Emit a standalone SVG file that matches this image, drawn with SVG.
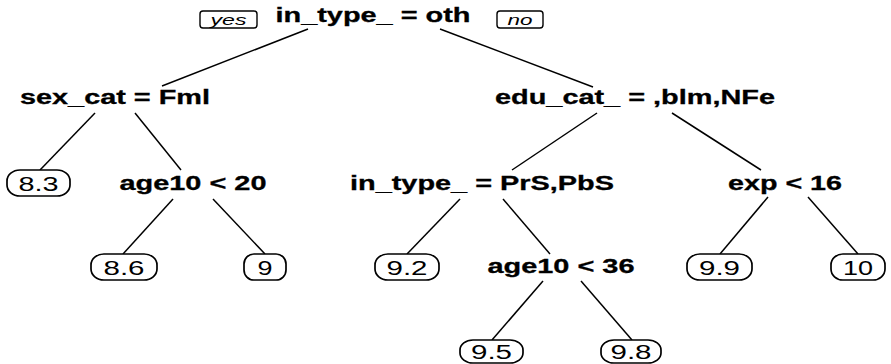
<svg xmlns="http://www.w3.org/2000/svg" width="891" height="364" viewBox="0 0 891 364">
  <style>
    .split { font-family: "Liberation Sans", Arial, sans-serif; font-weight: bold; font-size: 20px; fill: #000; stroke: #000; stroke-width: 0.3; text-anchor: middle; }
    .leaf-box { fill: #fff; stroke: #000; stroke-width: 1.7; }
    .leaf-text { font-family: "Liberation Sans", Arial, sans-serif; font-size: 20px; fill: #000; text-anchor: middle; }
    .tag-box { fill: #fff; stroke: #000; stroke-width: 1.4; }
    .tag-text { font-family: "Liberation Sans", Arial, sans-serif; font-style: italic; font-size: 15px; fill: #000; text-anchor: middle; }
    .branch { stroke: #000; stroke-width: 1.5; fill: none; }
  </style>
  <rect width="891" height="364" fill="#fff"/>

  <!-- branches -->
  <g id="connectors" class="branch">
    <line x1="308" y1="29" x2="162" y2="86"/>
    <line x1="440" y1="29" x2="593" y2="87"/>
    <line x1="95" y1="113" x2="40" y2="170"/>
    <line x1="135" y1="113" x2="181" y2="170"/>
    <line x1="597" y1="113" x2="512" y2="170"/>
    <line x1="672" y1="113" x2="761" y2="170"/>
    <line x1="173" y1="199" x2="123" y2="254"/>
    <line x1="213" y1="199" x2="265" y2="254"/>
    <line x1="460" y1="199" x2="407" y2="254"/>
    <line x1="503" y1="199" x2="550" y2="254"/>
    <line x1="768" y1="197" x2="720" y2="254"/>
    <line x1="808" y1="197" x2="858" y2="254"/>
    <line x1="543" y1="281" x2="492" y2="340"/>
    <line x1="581" y1="281" x2="632" y2="340"/>
  </g>

  <!-- root split with yes/no tags -->
  <g id="root">
    <text class="split" x="373" y="22" textLength="195" lengthAdjust="spacingAndGlyphs">in_type_ = oth</text>
  </g>
  <g id="tag-yes">
    <rect class="tag-box" x="200" y="11" width="57" height="17" rx="3"/>
    <text class="tag-text" x="228.5" y="24.5" textLength="36" lengthAdjust="spacingAndGlyphs">yes</text>
  </g>
  <g id="tag-no">
    <rect class="tag-box" x="497" y="11" width="46" height="17" rx="3"/>
    <text class="tag-text" x="520" y="24.5" textLength="25" lengthAdjust="spacingAndGlyphs">no</text>
  </g>

  <!-- internal splits -->
  <g id="n-sex">
    <text class="split" x="115" y="104" textLength="190" lengthAdjust="spacingAndGlyphs">sex_cat = Fml</text>
  </g>
  <g id="n-edu">
    <text class="split" x="635" y="104" textLength="280" lengthAdjust="spacingAndGlyphs">edu_cat_ = ,blm,NFe</text>
  </g>
  <g id="n-age20">
    <text class="split" x="193" y="190" textLength="147" lengthAdjust="spacingAndGlyphs">age10 &lt; 20</text>
  </g>
  <g id="n-intype">
    <text class="split" x="482" y="190" textLength="264" lengthAdjust="spacingAndGlyphs">in_type_ = PrS,PbS</text>
  </g>
  <g id="n-exp">
    <text class="split" x="785" y="190" textLength="114" lengthAdjust="spacingAndGlyphs">exp &lt; 16</text>
  </g>
  <g id="n-age36">
    <text class="split" x="561" y="273" textLength="147" lengthAdjust="spacingAndGlyphs">age10 &lt; 36</text>
  </g>

  <!-- leaves -->
  <g id="leaf-8-3">
    <rect class="leaf-box" x="7" y="170" width="63" height="26" rx="13" ry="11"/>
    <text class="leaf-text" x="38.5" y="190.5" textLength="40" lengthAdjust="spacingAndGlyphs">8.3</text>
  </g>
  <g id="leaf-8-6">
    <rect class="leaf-box" x="91" y="254" width="66" height="26" rx="13" ry="11"/>
    <text class="leaf-text" x="124" y="274.5" textLength="41" lengthAdjust="spacingAndGlyphs">8.6</text>
  </g>
  <g id="leaf-9">
    <rect class="leaf-box" x="244" y="254" width="42" height="26" rx="10" ry="10"/>
    <text class="leaf-text" x="265" y="274.5" textLength="15" lengthAdjust="spacingAndGlyphs">9</text>
  </g>
  <g id="leaf-9-2">
    <rect class="leaf-box" x="375" y="254" width="64" height="26" rx="13" ry="11"/>
    <text class="leaf-text" x="407" y="274.5" textLength="41" lengthAdjust="spacingAndGlyphs">9.2</text>
  </g>
  <g id="leaf-9-9">
    <rect class="leaf-box" x="687" y="254" width="65" height="26" rx="13" ry="11"/>
    <text class="leaf-text" x="719.5" y="274.5" textLength="41" lengthAdjust="spacingAndGlyphs">9.9</text>
  </g>
  <g id="leaf-10">
    <rect class="leaf-box" x="831" y="254" width="54" height="26" rx="12" ry="11"/>
    <text class="leaf-text" x="858" y="274.5" textLength="30" lengthAdjust="spacingAndGlyphs">10</text>
  </g>
  <g id="leaf-9-5">
    <rect class="leaf-box" x="460" y="340" width="63" height="23" rx="13" ry="10"/>
    <text class="leaf-text" x="491.5" y="359" textLength="41" lengthAdjust="spacingAndGlyphs">9.5</text>
  </g>
  <g id="leaf-9-8">
    <rect class="leaf-box" x="601" y="340" width="60" height="23" rx="13" ry="10"/>
    <text class="leaf-text" x="631" y="359" textLength="41" lengthAdjust="spacingAndGlyphs">9.8</text>
  </g>
</svg>
